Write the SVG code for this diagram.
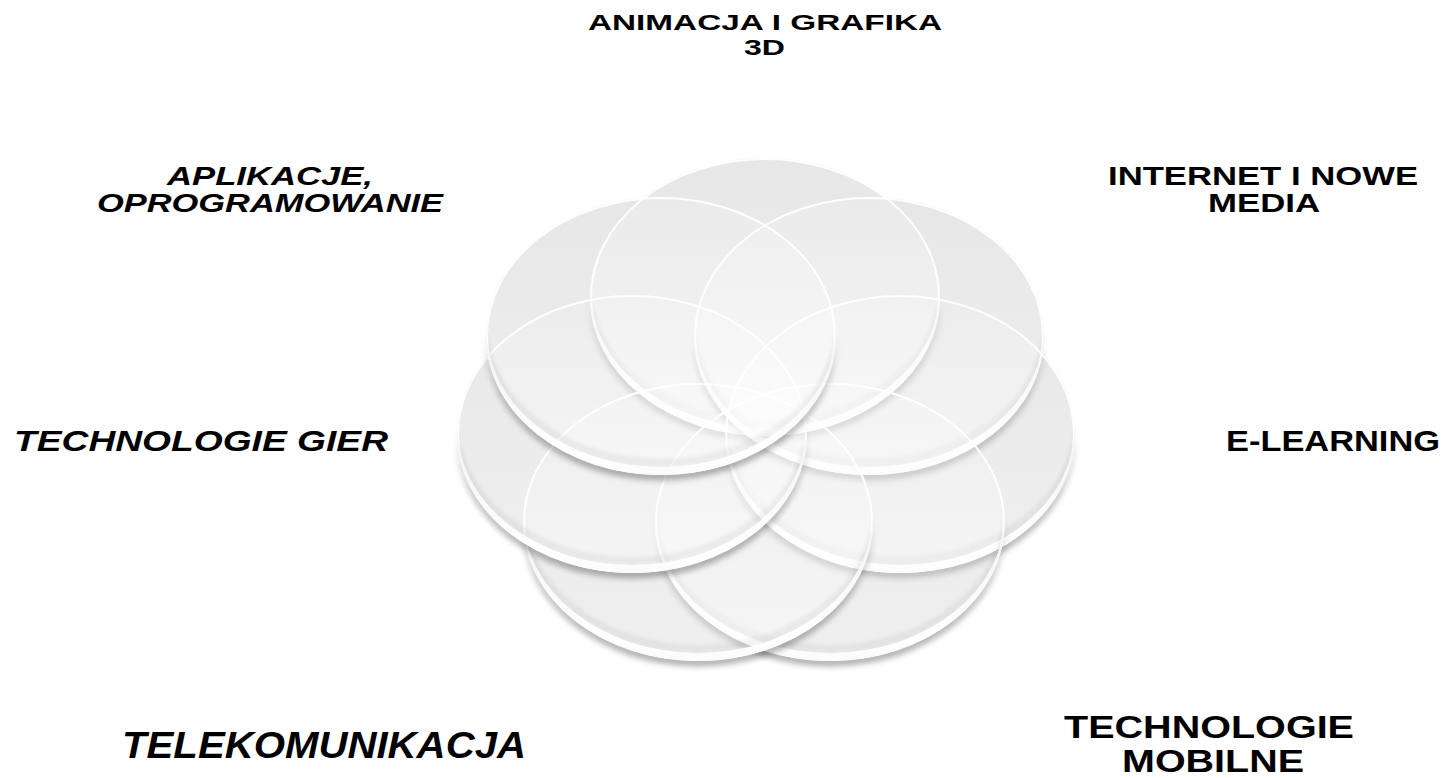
<svg xmlns="http://www.w3.org/2000/svg" xmlns:xlink="http://www.w3.org/1999/xlink" width="1452" height="778" viewBox="0 0 1452 778">
  <style>
    .lbl { font-family: "Liberation Sans", Arial, sans-serif; font-weight: bold; fill: #000; }
    .it { font-style: italic; }
    .base { fill: #e4e4e4; }
  </style>
  <defs>
    <linearGradient id="wash" x1="0" y1="0" x2="0" y2="1">
      <stop offset="0" stop-color="#fff" stop-opacity="0.1"/>
      <stop offset="1" stop-color="#fff" stop-opacity="0.45"/>
    </linearGradient>
    <linearGradient id="rim" x1="0" y1="0" x2="0" y2="1">
      <stop offset="0" stop-color="#f2f2f2"/>
      <stop offset="0.85" stop-color="#fff"/>
      <stop offset="1" stop-color="#fbfbfb"/>
    </linearGradient>
    <filter id="blur" x="-10%" y="-10%" width="120%" height="140%">
      <feGaussianBlur stdDeviation="3"/>
    </filter>
    <filter id="blur2" x="-10%" y="-10%" width="120%" height="140%">
      <feGaussianBlur stdDeviation="2"/>
    </filter>
    <g id="disc">
      <path d="M-175,0 A175,139 0 0 0 175,0 L175,-8 A175,139 0 0 1 -175,-8 Z" transform="translate(0,5)" fill="#000" opacity="0.34" filter="url(#blur)"/>
      <ellipse rx="175" ry="139" fill="url(#wash)"/>
      <path d="M-175,-8 A175,139 0 0 0 175,-8 L175,-16 A175,139 0 0 1 -175,-16 Z" fill="#000" opacity="0.05" filter="url(#blur2)"/>
      <ellipse rx="174" ry="138" fill="none" stroke="#fff" stroke-width="2" opacity="0.95"/>
      <path d="M-175,0 A175,139 0 0 0 175,0 L175,-8 A175,139 0 0 1 -175,-8 Z" fill="url(#rim)"/>
    </g>
  </defs>
  <rect width="1452" height="778" fill="#fff"/>

  <g id="backdrop">
    <ellipse class="base" cx="765" cy="297" rx="175" ry="139"/>
    <ellipse class="base" cx="869" cy="336" rx="175" ry="139"/>
    <ellipse class="base" cx="900" cy="434" rx="175" ry="139"/>
    <ellipse class="base" cx="830" cy="522" rx="175" ry="139"/>
    <ellipse class="base" cx="698" cy="522" rx="175" ry="139"/>
    <ellipse class="base" cx="632" cy="434" rx="175" ry="139"/>
    <ellipse class="base" cx="661" cy="336" rx="175" ry="139"/>
  </g>

  <g id="node-animacja">
    <use xlink:href="#disc" transform="translate(765,297)"/>
    <text class="lbl" font-size="22"><tspan x="588" y="30" textLength="354" lengthAdjust="spacingAndGlyphs">ANIMACJA I GRAFIKA</tspan><tspan x="744" y="55" textLength="41" lengthAdjust="spacingAndGlyphs">3D</tspan></text>
  </g>
  <g id="node-internet">
    <use xlink:href="#disc" transform="translate(869,336)"/>
    <text class="lbl" font-size="25"><tspan x="1108" y="185" textLength="310" lengthAdjust="spacingAndGlyphs">INTERNET I NOWE</tspan><tspan x="1208" y="212" textLength="112" lengthAdjust="spacingAndGlyphs">MEDIA</tspan></text>
  </g>
  <g id="node-elearning">
    <use xlink:href="#disc" transform="translate(900,434)"/>
    <text class="lbl" font-size="30" x="1226" y="451" textLength="214" lengthAdjust="spacingAndGlyphs">E-LEARNING</text>
  </g>
  <g id="node-mobilne">
    <use xlink:href="#disc" transform="translate(830,522)"/>
    <text class="lbl" font-size="32"><tspan x="1064" y="738" textLength="290" lengthAdjust="spacingAndGlyphs">TECHNOLOGIE</tspan><tspan x="1122" y="772" textLength="182" lengthAdjust="spacingAndGlyphs">MOBILNE</tspan></text>
  </g>
  <g id="node-telekom">
    <use xlink:href="#disc" transform="translate(698,522)"/>
    <text class="lbl it" font-size="37" x="122" y="758" textLength="404" lengthAdjust="spacingAndGlyphs">TELEKOMUNIKACJA</text>
  </g>
  <g id="node-gier">
    <use xlink:href="#disc" transform="translate(632,434)"/>
    <text class="lbl it" font-size="30" x="14" y="451" textLength="374" lengthAdjust="spacingAndGlyphs">TECHNOLOGIE GIER</text>
  </g>
  <g id="node-aplikacje">
    <use xlink:href="#disc" transform="translate(661,336)"/>
    <text class="lbl it" font-size="26"><tspan x="167" y="185" textLength="206" lengthAdjust="spacingAndGlyphs">APLIKACJE,</tspan><tspan x="97" y="212" textLength="346" lengthAdjust="spacingAndGlyphs">OPROGRAMOWANIE</tspan></text>
  </g>
</svg>
